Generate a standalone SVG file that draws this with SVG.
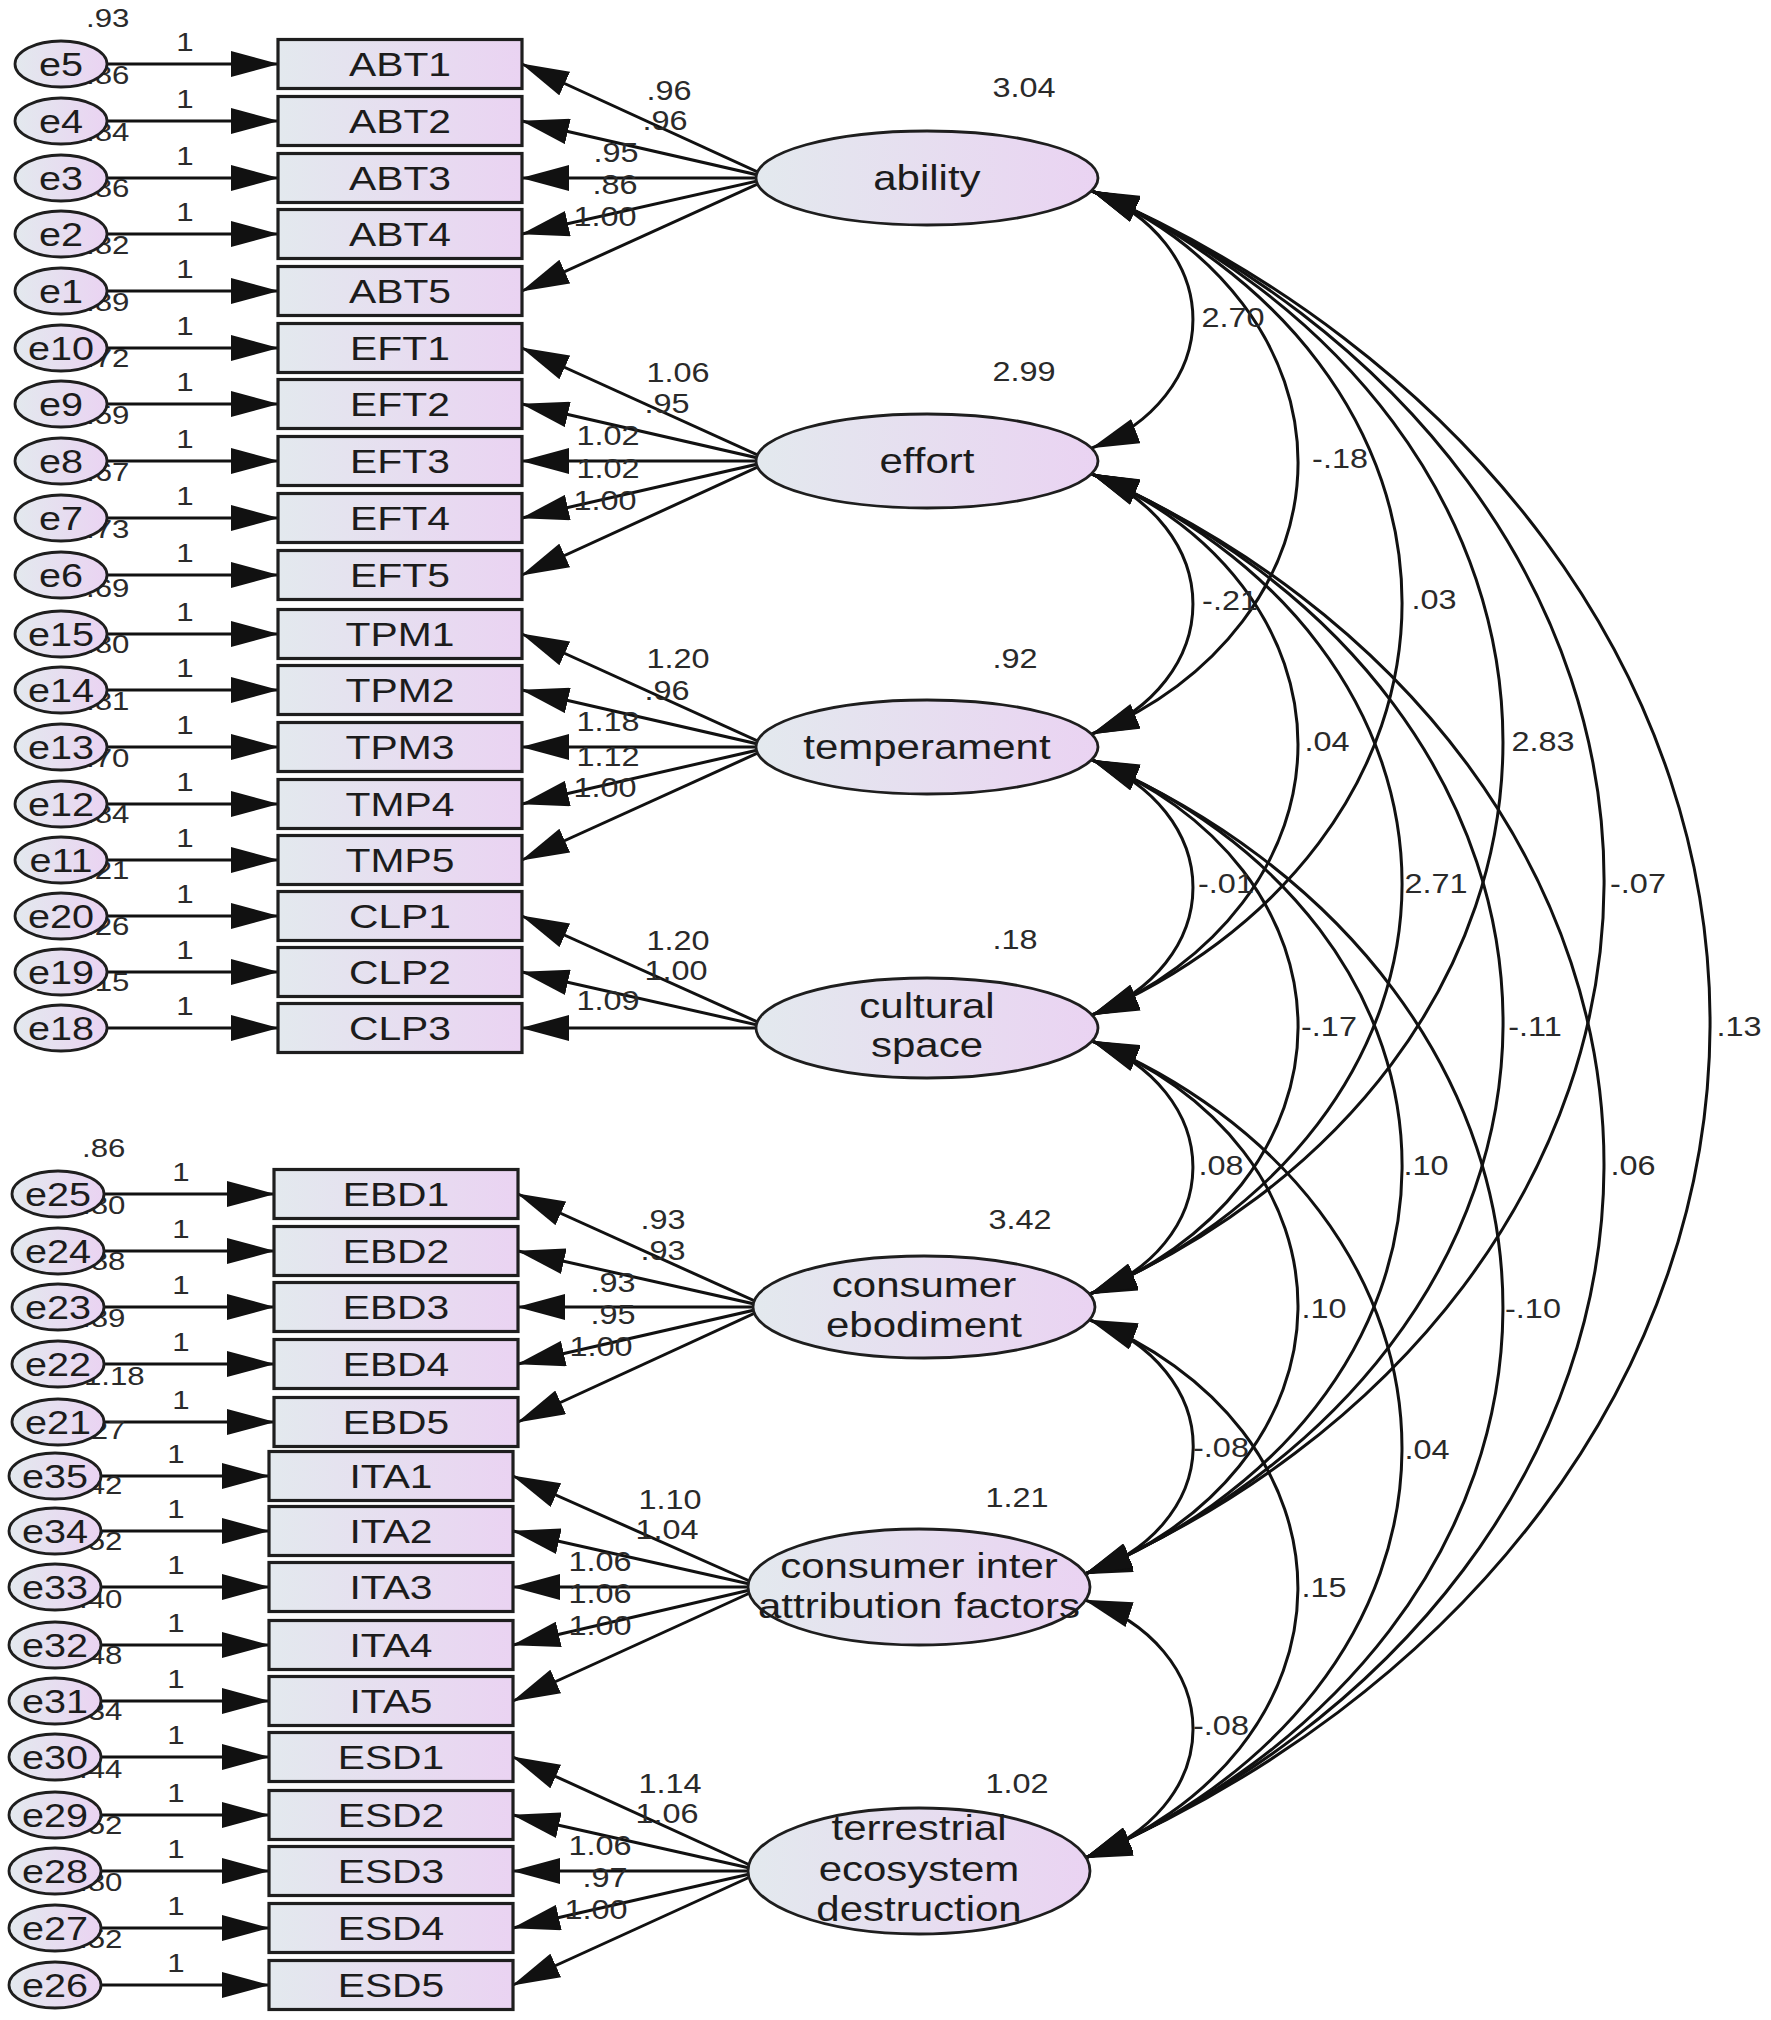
<svg xmlns="http://www.w3.org/2000/svg" width="1771" height="2020" viewBox="0 0 1771 2020">
<style>
text { font-family: "Liberation Sans", Arial, sans-serif; fill: #1c1c1c; }
.m { transform-box: fill-box; transform-origin: center; transform: scaleX(1.2); text-anchor: middle; }
.s { transform-box: fill-box; transform-origin: left center; transform: scaleX(1.2); text-anchor: start; }
.box { fill: url(#g); stroke: #1e1e1e; stroke-width: 3.2; }
.el { fill: url(#g); stroke: #1e1e1e; stroke-width: 2.8; }
.bl { font-size: 34px; }
.et { font-size: 33px; }
.lt { font-size: 35px; }
.n { font-size: 27px; fill: #2a2a2a; }
.v { font-size: 26px; fill: #2a2a2a; }
.one { font-size: 26px; fill: #2a2a2a; }
.ar { fill: none; stroke: #111; stroke-width: 3; marker-end: url(#ah); }
.cov { fill: none; stroke: #111; stroke-width: 3; marker-start: url(#ah); marker-end: url(#ah); }
</style>
<defs>
<linearGradient id="g" x1="0" y1="0" x2="1" y2="0">
<stop offset="0" stop-color="#e3e9ee"/>
<stop offset="1" stop-color="#ead3f2"/>
</linearGradient>
<marker id="ah" viewBox="0 0 48 26" refX="47" refY="13" markerWidth="48" markerHeight="26" markerUnits="userSpaceOnUse" orient="auto-start-reverse">
<path d="M0,0 L48,13 L0,26 Z" fill="#111"/>
</marker>
</defs>
<rect width="1771" height="2020" fill="#ffffff"/>

<g id="connectors">
<path class="ar" d="M101,64 H278"/>
<path class="ar" d="M101,121 H278"/>
<path class="ar" d="M101,178 H278"/>
<path class="ar" d="M101,234 H278"/>
<path class="ar" d="M101,291 H278"/>
<path class="ar" d="M101,348 H278"/>
<path class="ar" d="M101,404 H278"/>
<path class="ar" d="M101,461 H278"/>
<path class="ar" d="M101,518 H278"/>
<path class="ar" d="M101,575 H278"/>
<path class="ar" d="M101,634 H278"/>
<path class="ar" d="M101,690 H278"/>
<path class="ar" d="M101,747 H278"/>
<path class="ar" d="M101,804 H278"/>
<path class="ar" d="M101,860 H278"/>
<path class="ar" d="M101,916 H278"/>
<path class="ar" d="M101,972 H278"/>
<path class="ar" d="M101,1028 H278"/>
<path class="ar" d="M98,1194 H274"/>
<path class="ar" d="M98,1251 H274"/>
<path class="ar" d="M98,1307 H274"/>
<path class="ar" d="M98,1364 H274"/>
<path class="ar" d="M98,1422 H274"/>
<path class="ar" d="M95,1476 H269"/>
<path class="ar" d="M95,1531 H269"/>
<path class="ar" d="M95,1587 H269"/>
<path class="ar" d="M95,1645 H269"/>
<path class="ar" d="M95,1701 H269"/>
<path class="ar" d="M95,1757 H269"/>
<path class="ar" d="M95,1815 H269"/>
<path class="ar" d="M95,1871 H269"/>
<path class="ar" d="M95,1928 H269"/>
<path class="ar" d="M95,1985 H269"/>
<path class="ar" d="M771,178 L522,64"/>
<path class="ar" d="M771,178 L522,121"/>
<path class="ar" d="M771,178 L522,178"/>
<path class="ar" d="M771,178 L522,234"/>
<path class="ar" d="M771,178 L522,291"/>
<path class="ar" d="M771,461 L522,348"/>
<path class="ar" d="M771,461 L522,404"/>
<path class="ar" d="M771,461 L522,461"/>
<path class="ar" d="M771,461 L522,518"/>
<path class="ar" d="M771,461 L522,575"/>
<path class="ar" d="M771,747 L522,634"/>
<path class="ar" d="M771,747 L522,690"/>
<path class="ar" d="M771,747 L522,747"/>
<path class="ar" d="M771,747 L522,804"/>
<path class="ar" d="M771,747 L522,860"/>
<path class="ar" d="M771,1028 L522,916"/>
<path class="ar" d="M771,1028 L522,972"/>
<path class="ar" d="M771,1028 L522,1028"/>
<path class="ar" d="M768,1307 L518,1194"/>
<path class="ar" d="M768,1307 L518,1251"/>
<path class="ar" d="M768,1307 L518,1307"/>
<path class="ar" d="M768,1307 L518,1364"/>
<path class="ar" d="M768,1307 L518,1422"/>
<path class="ar" d="M763,1587 L513,1476"/>
<path class="ar" d="M763,1587 L513,1531"/>
<path class="ar" d="M763,1587 L513,1587"/>
<path class="ar" d="M763,1587 L513,1645"/>
<path class="ar" d="M763,1587 L513,1701"/>
<path class="ar" d="M763,1871 L513,1757"/>
<path class="ar" d="M763,1871 L513,1815"/>
<path class="ar" d="M763,1871 L513,1871"/>
<path class="ar" d="M763,1871 L513,1928"/>
<path class="ar" d="M763,1871 L513,1985"/>
<path class="cov" d="M1092,191 A178.2,142.6 0 0 1 1092,448"/>
<path class="cov" d="M1092,474 A181.2,145 0 0 1 1092,734"/>
<path class="cov" d="M1092,760 A176.2,141 0 0 1 1092,1015"/>
<path class="cov" d="M1092,1041 A173.6,138.9 0 0 1 1090,1294"/>
<path class="cov" d="M1090,1320 A172.2,137.7 0 0 1 1085,1574"/>
<path class="cov" d="M1085,1600 A174.4,139.5 0 0 1 1085,1858"/>
<path class="cov" d="M1092,191 A382.5,306 0 0 1 1092,734"/>
<path class="cov" d="M1092,474 A380.5,304.4 0 0 1 1092,1015"/>
<path class="cov" d="M1092,760 A372.5,298 0 0 1 1090,1294"/>
<path class="cov" d="M1092,1041 A369.6,295.7 0 0 1 1085,1574"/>
<path class="cov" d="M1090,1320 A373.8,299.1 0 0 1 1085,1858"/>
<path class="cov" d="M1092,191 A582.8,466.2 0 0 1 1092,1015"/>
<path class="cov" d="M1092,474 A577.8,462.2 0 0 1 1090,1294"/>
<path class="cov" d="M1092,760 A569.5,455.6 0 0 1 1085,1574"/>
<path class="cov" d="M1092,1041 A572.6,458.1 0 0 1 1085,1858"/>
<path class="cov" d="M1092,191 A782.7,626.2 0 0 1 1090,1294"/>
<path class="cov" d="M1092,474 A777.4,621.9 0 0 1 1085,1574"/>
<path class="cov" d="M1092,760 A775.3,620.3 0 0 1 1085,1858"/>
<path class="cov" d="M1092,191 A982.4,785.9 0 0 1 1085,1574"/>
<path class="cov" d="M1092,474 A983.5,786.8 0 0 1 1085,1858"/>
<path class="cov" d="M1092,191 A1184,947.2 0 0 1 1085,1858"/>
</g>

<g id="labels">
<text class="v s" x="86" y="27">.93</text>
<text class="v s" x="86" y="84">.86</text>
<text class="v s" x="86" y="141">.84</text>
<text class="v s" x="86" y="197">.86</text>
<text class="v s" x="86" y="254">.82</text>
<text class="v s" x="86" y="311">.89</text>
<text class="v s" x="86" y="367">.72</text>
<text class="v s" x="86" y="424">.59</text>
<text class="v s" x="86" y="481">.67</text>
<text class="v s" x="86" y="538">.73</text>
<text class="v s" x="86" y="597">.69</text>
<text class="v s" x="86" y="653">.80</text>
<text class="v s" x="86" y="710">.81</text>
<text class="v s" x="86" y="767">.70</text>
<text class="v s" x="86" y="823">.84</text>
<text class="v s" x="86" y="879">.21</text>
<text class="v s" x="86" y="935">.26</text>
<text class="v s" x="86" y="991">.15</text>
<text class="v s" x="82" y="1157">.86</text>
<text class="v s" x="82" y="1214">.80</text>
<text class="v s" x="82" y="1270">.88</text>
<text class="v s" x="82" y="1327">.89</text>
<text class="v s" x="84" y="1385">1.18</text>
<text class="v s" x="82" y="1439">.27</text>
<text class="v s" x="79" y="1494">.42</text>
<text class="v s" x="79" y="1550">.52</text>
<text class="v s" x="79" y="1608">.40</text>
<text class="v s" x="79" y="1664">.48</text>
<text class="v s" x="79" y="1720">.34</text>
<text class="v s" x="79" y="1778">.44</text>
<text class="v s" x="79" y="1834">.52</text>
<text class="v s" x="79" y="1891">.80</text>
<text class="v s" x="79" y="1948">.52</text>
<text class="one m" x="185" y="51">1</text>
<text class="one m" x="185" y="108">1</text>
<text class="one m" x="185" y="165">1</text>
<text class="one m" x="185" y="221">1</text>
<text class="one m" x="185" y="278">1</text>
<text class="one m" x="185" y="335">1</text>
<text class="one m" x="185" y="391">1</text>
<text class="one m" x="185" y="448">1</text>
<text class="one m" x="185" y="505">1</text>
<text class="one m" x="185" y="562">1</text>
<text class="one m" x="185" y="621">1</text>
<text class="one m" x="185" y="677">1</text>
<text class="one m" x="185" y="734">1</text>
<text class="one m" x="185" y="791">1</text>
<text class="one m" x="185" y="847">1</text>
<text class="one m" x="185" y="903">1</text>
<text class="one m" x="185" y="959">1</text>
<text class="one m" x="185" y="1015">1</text>
<text class="one m" x="181" y="1181">1</text>
<text class="one m" x="181" y="1238">1</text>
<text class="one m" x="181" y="1294">1</text>
<text class="one m" x="181" y="1351">1</text>
<text class="one m" x="181" y="1409">1</text>
<text class="one m" x="176" y="1463">1</text>
<text class="one m" x="176" y="1518">1</text>
<text class="one m" x="176" y="1574">1</text>
<text class="one m" x="176" y="1632">1</text>
<text class="one m" x="176" y="1688">1</text>
<text class="one m" x="176" y="1744">1</text>
<text class="one m" x="176" y="1802">1</text>
<text class="one m" x="176" y="1858">1</text>
<text class="one m" x="176" y="1915">1</text>
<text class="one m" x="176" y="1972">1</text>
<text class="n m" x="669" y="100">.96</text>
<text class="n m" x="665" y="130">.96</text>
<text class="n m" x="616" y="162">.95</text>
<text class="n m" x="615" y="194">.86</text>
<text class="n m" x="605" y="226">1.00</text>
<text class="n m" x="678" y="382">1.06</text>
<text class="n m" x="667" y="413">.95</text>
<text class="n m" x="608" y="445">1.02</text>
<text class="n m" x="608" y="478">1.02</text>
<text class="n m" x="605" y="510">1.00</text>
<text class="n m" x="678" y="668">1.20</text>
<text class="n m" x="667" y="700">.96</text>
<text class="n m" x="608" y="731">1.18</text>
<text class="n m" x="608" y="766">1.12</text>
<text class="n m" x="605" y="797">1.00</text>
<text class="n m" x="678" y="950">1.20</text>
<text class="n m" x="676" y="980">1.00</text>
<text class="n m" x="608" y="1010">1.09</text>
<text class="n m" x="663" y="1229">.93</text>
<text class="n m" x="663" y="1260">.93</text>
<text class="n m" x="613" y="1292">.93</text>
<text class="n m" x="613" y="1324">.95</text>
<text class="n m" x="601" y="1356">1.00</text>
<text class="n m" x="670" y="1509">1.10</text>
<text class="n m" x="667" y="1539">1.04</text>
<text class="n m" x="600" y="1571">1.06</text>
<text class="n m" x="600" y="1603">1.06</text>
<text class="n m" x="600" y="1635">1.00</text>
<text class="n m" x="670" y="1793">1.14</text>
<text class="n m" x="667" y="1823">1.06</text>
<text class="n m" x="600" y="1855">1.06</text>
<text class="n m" x="605" y="1887">.97</text>
<text class="n m" x="596" y="1919">1.00</text>
<text class="n m" x="1024" y="97">3.04</text>
<text class="n m" x="1024" y="381">2.99</text>
<text class="n m" x="1015" y="668">.92</text>
<text class="n m" x="1015" y="949">.18</text>
<text class="n m" x="1020" y="1229">3.42</text>
<text class="n m" x="1017" y="1507">1.21</text>
<text class="n m" x="1017" y="1793">1.02</text>
<text class="n m" x="1233" y="327">2.70</text>
<text class="n m" x="1340" y="468">-.18</text>
<text class="n m" x="1434" y="609">.03</text>
<text class="n m" x="1543" y="751">2.83</text>
<text class="n m" x="1638" y="893">-.07</text>
<text class="n m" x="1739" y="1036">.13</text>
<text class="n m" x="1230" y="610">-.21</text>
<text class="n m" x="1327" y="751">.04</text>
<text class="n m" x="1436" y="893">2.71</text>
<text class="n m" x="1535" y="1036">-.11</text>
<text class="n m" x="1633" y="1175">.06</text>
<text class="n m" x="1226" y="893">-.01</text>
<text class="n m" x="1329" y="1036">-.17</text>
<text class="n m" x="1426" y="1175">.10</text>
<text class="n m" x="1533" y="1318">-.10</text>
<text class="n m" x="1221" y="1175">.08</text>
<text class="n m" x="1324" y="1318">.10</text>
<text class="n m" x="1427" y="1459">.04</text>
<text class="n m" x="1221" y="1457">-.08</text>
<text class="n m" x="1324" y="1597">.15</text>
<text class="n m" x="1221" y="1735">-.08</text>
</g>

<g id="nodes">
<g id="e5"><ellipse class="el" cx="61" cy="64" rx="46" ry="23"/><text class="et m" x="61" y="76">e5</text></g>
<g id="e4"><ellipse class="el" cx="61" cy="121" rx="46" ry="23"/><text class="et m" x="61" y="133">e4</text></g>
<g id="e3"><ellipse class="el" cx="61" cy="178" rx="46" ry="23"/><text class="et m" x="61" y="190">e3</text></g>
<g id="e2"><ellipse class="el" cx="61" cy="234" rx="46" ry="23"/><text class="et m" x="61" y="246">e2</text></g>
<g id="e1"><ellipse class="el" cx="61" cy="291" rx="46" ry="23"/><text class="et m" x="61" y="303">e1</text></g>
<g id="e10"><ellipse class="el" cx="61" cy="348" rx="46" ry="23"/><text class="et m" x="61" y="360">e10</text></g>
<g id="e9"><ellipse class="el" cx="61" cy="404" rx="46" ry="23"/><text class="et m" x="61" y="416">e9</text></g>
<g id="e8"><ellipse class="el" cx="61" cy="461" rx="46" ry="23"/><text class="et m" x="61" y="473">e8</text></g>
<g id="e7"><ellipse class="el" cx="61" cy="518" rx="46" ry="23"/><text class="et m" x="61" y="530">e7</text></g>
<g id="e6"><ellipse class="el" cx="61" cy="575" rx="46" ry="23"/><text class="et m" x="61" y="587">e6</text></g>
<g id="e15"><ellipse class="el" cx="61" cy="634" rx="46" ry="23"/><text class="et m" x="61" y="646">e15</text></g>
<g id="e14"><ellipse class="el" cx="61" cy="690" rx="46" ry="23"/><text class="et m" x="61" y="702">e14</text></g>
<g id="e13"><ellipse class="el" cx="61" cy="747" rx="46" ry="23"/><text class="et m" x="61" y="759">e13</text></g>
<g id="e12"><ellipse class="el" cx="61" cy="804" rx="46" ry="23"/><text class="et m" x="61" y="816">e12</text></g>
<g id="e11"><ellipse class="el" cx="61" cy="860" rx="46" ry="23"/><text class="et m" x="61" y="872">e11</text></g>
<g id="e20"><ellipse class="el" cx="61" cy="916" rx="46" ry="23"/><text class="et m" x="61" y="928">e20</text></g>
<g id="e19"><ellipse class="el" cx="61" cy="972" rx="46" ry="23"/><text class="et m" x="61" y="984">e19</text></g>
<g id="e18"><ellipse class="el" cx="61" cy="1028" rx="46" ry="23"/><text class="et m" x="61" y="1040">e18</text></g>
<g id="e25"><ellipse class="el" cx="58" cy="1194" rx="46" ry="23"/><text class="et m" x="58" y="1206">e25</text></g>
<g id="e24"><ellipse class="el" cx="58" cy="1251" rx="46" ry="23"/><text class="et m" x="58" y="1263">e24</text></g>
<g id="e23"><ellipse class="el" cx="58" cy="1307" rx="46" ry="23"/><text class="et m" x="58" y="1319">e23</text></g>
<g id="e22"><ellipse class="el" cx="58" cy="1364" rx="46" ry="23"/><text class="et m" x="58" y="1376">e22</text></g>
<g id="e21"><ellipse class="el" cx="58" cy="1422" rx="46" ry="23"/><text class="et m" x="58" y="1434">e21</text></g>
<g id="e35"><ellipse class="el" cx="55" cy="1476" rx="46" ry="23"/><text class="et m" x="55" y="1488">e35</text></g>
<g id="e34"><ellipse class="el" cx="55" cy="1531" rx="46" ry="23"/><text class="et m" x="55" y="1543">e34</text></g>
<g id="e33"><ellipse class="el" cx="55" cy="1587" rx="46" ry="23"/><text class="et m" x="55" y="1599">e33</text></g>
<g id="e32"><ellipse class="el" cx="55" cy="1645" rx="46" ry="23"/><text class="et m" x="55" y="1657">e32</text></g>
<g id="e31"><ellipse class="el" cx="55" cy="1701" rx="46" ry="23"/><text class="et m" x="55" y="1713">e31</text></g>
<g id="e30"><ellipse class="el" cx="55" cy="1757" rx="46" ry="23"/><text class="et m" x="55" y="1769">e30</text></g>
<g id="e29"><ellipse class="el" cx="55" cy="1815" rx="46" ry="23"/><text class="et m" x="55" y="1827">e29</text></g>
<g id="e28"><ellipse class="el" cx="55" cy="1871" rx="46" ry="23"/><text class="et m" x="55" y="1883">e28</text></g>
<g id="e27"><ellipse class="el" cx="55" cy="1928" rx="46" ry="23"/><text class="et m" x="55" y="1940">e27</text></g>
<g id="e26"><ellipse class="el" cx="55" cy="1985" rx="46" ry="23"/><text class="et m" x="55" y="1997">e26</text></g>

<g id="ABT1"><rect class="box" x="278" y="39.5" width="244" height="49"/><text class="bl m" x="400" y="76">ABT1</text></g>
<g id="ABT2"><rect class="box" x="278" y="96.5" width="244" height="49"/><text class="bl m" x="400" y="133">ABT2</text></g>
<g id="ABT3"><rect class="box" x="278" y="153.5" width="244" height="49"/><text class="bl m" x="400" y="190">ABT3</text></g>
<g id="ABT4"><rect class="box" x="278" y="209.5" width="244" height="49"/><text class="bl m" x="400" y="246">ABT4</text></g>
<g id="ABT5"><rect class="box" x="278" y="266.5" width="244" height="49"/><text class="bl m" x="400" y="303">ABT5</text></g>
<g id="EFT1"><rect class="box" x="278" y="323.5" width="244" height="49"/><text class="bl m" x="400" y="360">EFT1</text></g>
<g id="EFT2"><rect class="box" x="278" y="379.5" width="244" height="49"/><text class="bl m" x="400" y="416">EFT2</text></g>
<g id="EFT3"><rect class="box" x="278" y="436.5" width="244" height="49"/><text class="bl m" x="400" y="473">EFT3</text></g>
<g id="EFT4"><rect class="box" x="278" y="493.5" width="244" height="49"/><text class="bl m" x="400" y="530">EFT4</text></g>
<g id="EFT5"><rect class="box" x="278" y="550.5" width="244" height="49"/><text class="bl m" x="400" y="587">EFT5</text></g>
<g id="TPM1"><rect class="box" x="278" y="609.5" width="244" height="49"/><text class="bl m" x="400" y="646">TPM1</text></g>
<g id="TPM2"><rect class="box" x="278" y="665.5" width="244" height="49"/><text class="bl m" x="400" y="702">TPM2</text></g>
<g id="TPM3"><rect class="box" x="278" y="722.5" width="244" height="49"/><text class="bl m" x="400" y="759">TPM3</text></g>
<g id="TMP4"><rect class="box" x="278" y="779.5" width="244" height="49"/><text class="bl m" x="400" y="816">TMP4</text></g>
<g id="TMP5"><rect class="box" x="278" y="835.5" width="244" height="49"/><text class="bl m" x="400" y="872">TMP5</text></g>
<g id="CLP1"><rect class="box" x="278" y="891.5" width="244" height="49"/><text class="bl m" x="400" y="928">CLP1</text></g>
<g id="CLP2"><rect class="box" x="278" y="947.5" width="244" height="49"/><text class="bl m" x="400" y="984">CLP2</text></g>
<g id="CLP3"><rect class="box" x="278" y="1003.5" width="244" height="49"/><text class="bl m" x="400" y="1040">CLP3</text></g>
<g id="EBD1"><rect class="box" x="274" y="1169.5" width="244" height="49"/><text class="bl m" x="396" y="1206">EBD1</text></g>
<g id="EBD2"><rect class="box" x="274" y="1226.5" width="244" height="49"/><text class="bl m" x="396" y="1263">EBD2</text></g>
<g id="EBD3"><rect class="box" x="274" y="1282.5" width="244" height="49"/><text class="bl m" x="396" y="1319">EBD3</text></g>
<g id="EBD4"><rect class="box" x="274" y="1339.5" width="244" height="49"/><text class="bl m" x="396" y="1376">EBD4</text></g>
<g id="EBD5"><rect class="box" x="274" y="1397.5" width="244" height="49"/><text class="bl m" x="396" y="1434">EBD5</text></g>
<g id="ITA1"><rect class="box" x="269" y="1451.5" width="244" height="49"/><text class="bl m" x="391" y="1488">ITA1</text></g>
<g id="ITA2"><rect class="box" x="269" y="1506.5" width="244" height="49"/><text class="bl m" x="391" y="1543">ITA2</text></g>
<g id="ITA3"><rect class="box" x="269" y="1562.5" width="244" height="49"/><text class="bl m" x="391" y="1599">ITA3</text></g>
<g id="ITA4"><rect class="box" x="269" y="1620.5" width="244" height="49"/><text class="bl m" x="391" y="1657">ITA4</text></g>
<g id="ITA5"><rect class="box" x="269" y="1676.5" width="244" height="49"/><text class="bl m" x="391" y="1713">ITA5</text></g>
<g id="ESD1"><rect class="box" x="269" y="1732.5" width="244" height="49"/><text class="bl m" x="391" y="1769">ESD1</text></g>
<g id="ESD2"><rect class="box" x="269" y="1790.5" width="244" height="49"/><text class="bl m" x="391" y="1827">ESD2</text></g>
<g id="ESD3"><rect class="box" x="269" y="1846.5" width="244" height="49"/><text class="bl m" x="391" y="1883">ESD3</text></g>
<g id="ESD4"><rect class="box" x="269" y="1903.5" width="244" height="49"/><text class="bl m" x="391" y="1940">ESD4</text></g>
<g id="ESD5"><rect class="box" x="269" y="1960.5" width="244" height="49"/><text class="bl m" x="391" y="1997">ESD5</text></g>

<g id="ability"><ellipse class="el" cx="927" cy="178" rx="171" ry="47"/><text class="lt m" x="927" y="190">ability</text></g>
<g id="effort"><ellipse class="el" cx="927" cy="461" rx="171" ry="47"/><text class="lt m" x="927" y="473">effort</text></g>
<g id="temperament"><ellipse class="el" cx="927" cy="747" rx="171" ry="47"/><text class="lt m" x="927" y="759">temperament</text></g>
<g id="cultural_space"><ellipse class="el" cx="927" cy="1028" rx="171" ry="50"/><text class="lt m" x="927" y="1018">cultural</text><text class="lt m" x="927" y="1057">space</text></g>
<g id="consumer_ebodiment"><ellipse class="el" cx="924" cy="1307" rx="171" ry="51"/><text class="lt m" x="924" y="1297">consumer</text><text class="lt m" x="924" y="1337">ebodiment</text></g>
<g id="consumer_inter_attribution_factors"><ellipse class="el" cx="919" cy="1587" rx="171" ry="58"/><text class="lt m" x="919" y="1578">consumer inter</text><text class="lt m" x="919" y="1618">attribution factors</text></g>
<g id="terrestrial_ecosystem_destruction"><ellipse class="el" cx="919" cy="1871" rx="171" ry="63"/><text class="lt m" x="919" y="1840">terrestrial</text><text class="lt m" x="919" y="1881">ecosystem</text><text class="lt m" x="919" y="1921">destruction</text></g>
</g>
</svg>
